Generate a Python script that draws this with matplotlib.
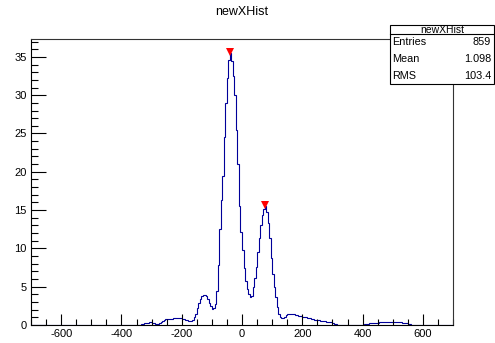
import matplotlib
matplotlib.use("Agg")
import matplotlib.pyplot as plt
import numpy as np
from matplotlib.ticker import MultipleLocator
from matplotlib import font_manager as fm

# pick the regular (non-narrow) Liberation Sans explicitly
reg = [f for f in fm.findSystemFonts() if 'LiberationSans-Regular' in f]
if reg:
    fm.fontManager.addfont(reg[0])
    fam = fm.FontProperties(fname=reg[0]).get_name()
else:
    fam = 'DejaVu Sans'
plt.rcParams['font.family'] = [fam, 'DejaVu Sans']
plt.rcParams['axes.unicode_minus'] = False

# ---- data ----
title = "newXHist"
x_min, x_max, n_bins = -700.0, 700.0, 280

counts = [
    # -700 .. -345
    0, 0, 0, 0, 0, 0, 0, 0, 0, 0, 0, 0, 0, 0, 0, 0, 0, 0, 0, 0,
    0, 0, 0, 0, 0, 0, 0, 0, 0, 0, 0, 0, 0, 0, 0, 0, 0, 0, 0, 0,
    0, 0, 0, 0, 0, 0, 0, 0, 0, 0, 0, 0, 0, 0, 0, 0, 0, 0, 0, 0,
    0, 0, 0, 0, 0, 0, 0, 0, 0, 0, 0,
    # -345 .. -90
    0.02, 0.05, 0.08, 0.13, 0.20, 0.27, 0.31, 0.34, 0.35, 0.32,
    0.26, 0.18, 0.10, 0.17, 0.30, 0.42, 0.58, 0.70, 0.74, 0.78,
    0.80, 0.82, 0.83, 0.85, 0.86, 0.87, 0.88, 0.90, 0.88, 0.83,
    0.77, 0.70, 0.62, 0.53, 0.46, 0.55, 0.70, 1.00, 1.50, 2.20,
    2.90, 3.40, 3.75, 3.95, 3.95, 3.75, 3.40, 2.90, 2.50, 2.15,
    2.20,
    # -90 .. 0
    2.70, 4.50, 7.80, 12.5, 16.3, 19.5, 24.5, 29.0, 32.2, 34.6,
    35.5, 34.5, 32.5, 30.0, 25.5, 21.0, 15.5, 12.2,
    # 0 .. 320
    9.80, 7.40, 5.80, 4.70, 4.00, 3.65, 3.80, 4.90, 6.20, 7.60,
    9.50, 11.4, 13.1, 14.4, 15.2, 15.5, 14.7, 13.3, 11.3, 8.80,
    6.60, 5.00, 3.70, 2.30, 1.50, 1.05, 0.90, 0.95, 1.10, 1.30,
    1.40, 1.48, 1.50, 1.47, 1.42, 1.35, 1.28, 1.22, 1.18, 1.14,
    1.10, 1.06, 1.00, 0.96, 0.91, 0.86, 0.81, 0.76, 0.70, 0.65,
    0.62, 0.59, 0.56, 0.53, 0.50, 0.47, 0.44, 0.41, 0.38, 0.34,
    0.26, 0.18, 0.10, 0.03,
    # 320 .. 405
    0, 0, 0, 0, 0, 0, 0, 0, 0, 0, 0, 0, 0, 0, 0, 0, 0,
    # 405 .. 565
    0.08, 0.13, 0.17, 0.20, 0.23, 0.26, 0.28, 0.29, 0.30, 0.31,
    0.33, 0.34, 0.35, 0.36, 0.37, 0.37, 0.38, 0.38, 0.38, 0.38,
    0.37, 0.36, 0.35, 0.34, 0.33, 0.32, 0.30, 0.27, 0.22, 0.16,
    0.10, 0.05,
    # 565 .. 700
    0, 0, 0, 0, 0, 0, 0, 0, 0, 0, 0, 0, 0, 0, 0, 0, 0, 0, 0, 0,
    0, 0, 0, 0, 0, 0, 0,
]

peak_x = [-40.0, 76.0]
peak_y = [35.6, 15.7]

stats_labels = ["Entries", "Mean", "RMS"]
stats_values = ["859", "1.098", "103.4"]

y_max = 37.4

# ---- figure ----
fig = plt.figure(figsize=(4.95, 3.43), dpi=100)
ax = fig.add_axes([31/495, 18/343, (453-31)/495, (325-38.5)/343])

edges = np.linspace(x_min, x_max, n_bins + 1)
ax.stairs(counts, edges, color='#000099', linewidth=0.8)
ax.plot(peak_x, peak_y, linestyle='none', marker='v', color='#ff0000',
        markersize=6, markeredgewidth=0, zorder=5)

ax.set_xlim(x_min, x_max)
ax.set_ylim(0, y_max)

ax.xaxis.set_major_locator(MultipleLocator(200))
ax.xaxis.set_minor_locator(MultipleLocator(50))
ax.yaxis.set_major_locator(MultipleLocator(5))
ax.yaxis.set_minor_locator(MultipleLocator(1))
ax.tick_params(axis='x', which='major', direction='in', length=8, width=0.8,
               labelsize=8, pad=3, top=False)
ax.tick_params(axis='x', which='minor', direction='in', length=4, width=0.8, top=False)
ax.tick_params(axis='y', which='major', direction='in', length=11, width=0.8,
               labelsize=8, pad=3, right=False)
ax.tick_params(axis='y', which='minor', direction='in', length=5, width=0.8, right=False)
for s in ax.spines.values():
    s.set_linewidth(0.8)
    s.set_color('#333333')
ax.spines['left'].set_color('black')
ax.spines['bottom'].set_color('black')

fig.text(242/495, 1 - 12/343, title, ha='center', va='center', fontsize=9)

# stats box
bx0, bx1 = 390/495, 494/495
by_top, by_bot = 1 - 25/343, 1 - 84/343
by_sep = 1 - 34/343
box = plt.Rectangle((bx0, by_bot), bx1 - bx0, by_top - by_bot,
                    transform=fig.transFigure, facecolor='white',
                    edgecolor='black', linewidth=0.8, zorder=10)
fig.add_artist(box)
fig.add_artist(plt.Line2D([bx0, bx1], [by_sep, by_sep], transform=fig.transFigure,
                          color='black', linewidth=0.8, zorder=11))
fig.text((bx0 + bx1) / 2, (by_top + by_sep) / 2 - 0.5/343, title, ha='center',
         va='center', fontsize=7.5, zorder=12)
row_h = (by_sep - by_bot) / len(stats_labels)
for k, (lab, val) in enumerate(zip(stats_labels, stats_values)):
    yc = by_sep - row_h * (k + 0.5)
    fig.text(bx0 + 2/495, yc, lab, ha='left', va='center', fontsize=7.8, zorder=12)
    fig.text(bx1 - 3/495, yc, val, ha='right', va='center', fontsize=7.8, zorder=12)

fig.savefig("out.png", dpi=100)
